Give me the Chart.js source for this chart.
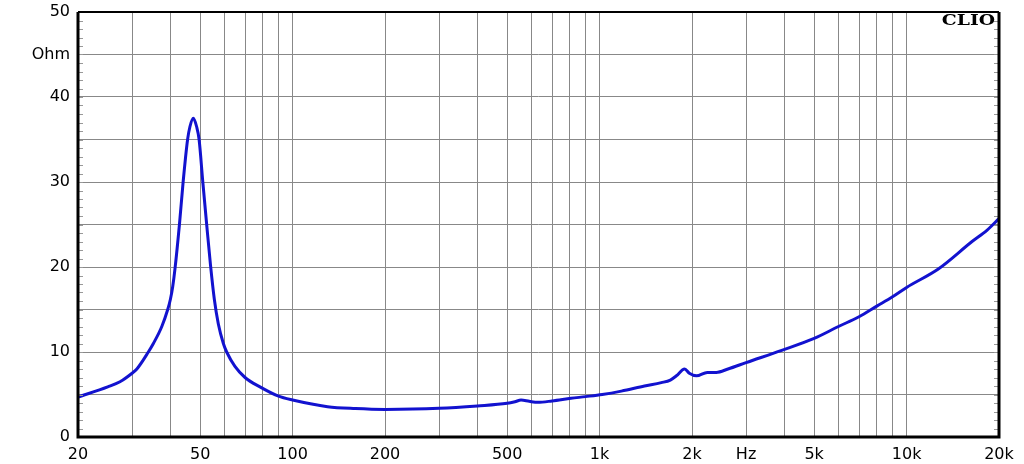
<!DOCTYPE html>
<html>
<head>
<meta charset="utf-8">
<script src="https://cdn.jsdelivr.net/npm/chart.js@4"></script>
<style>
  html, body { margin: 0; padding: 0; background: #fff; }
  canvas { display: block; }
</style>
</head>
<body>
<canvas id="clioChart" width="1024" height="464"></canvas>
<script>
// impedance curve
const freqHz = [20, 25, 27.4, 30, 31.1, 33.9, 35.2, 37.5, 39.2, 40.0, 40.7, 41.4, 42.8, 44.0, 45.5, 46.3, 47.5, 48.7, 49.6, 51.0, 52.5, 54.0, 55.6, 57.3, 59.5, 61.0, 64.9, 70, 78.3, 90, 100, 130, 160, 200, 300, 400, 500, 530, 555, 590, 629, 700, 807, 900, 1020, 1177, 1400, 1589, 1700, 1779, 1893, 1960, 2068, 2243, 2400, 2620, 3000, 3920, 5000, 6000, 7000, 8000, 9000, 10000, 12720, 16340, 18300, 20000];
const ohms = [4.7, 5.9, 6.5, 7.5, 8.0, 10.0, 11.0, 13.0, 15.0, 16.2, 17.7, 19.8, 25.0, 30.0, 35.0, 36.5, 37.5, 36.5, 35.0, 30.0, 25.0, 20.3, 16.2, 13.3, 11.0, 10.0, 8.3, 7.0, 5.9, 4.8, 4.35, 3.57, 3.35, 3.25, 3.37, 3.65, 3.96, 4.15, 4.35, 4.2, 4.08, 4.24, 4.55, 4.75, 5.0, 5.4, 6.0, 6.4, 6.7, 7.2, 8.0, 7.5, 7.2, 7.6, 7.6, 8.0, 8.75, 10.2, 11.6, 13.0, 14.15, 15.4, 16.5, 17.6, 19.8, 23.0, 24.35, 25.7];

const xTicks = [20, 30, 40, 50, 60, 70, 80, 90, 100, 200, 300, 400, 500, 600, 700, 800, 900, 1000, 2000, 3000, 4000, 5000, 6000, 7000, 8000, 9000, 10000, 20000];
const xLabels = { 20: '20', 50: '50', 100: '100', 200: '200', 500: '500', 1000: '1k', 2000: '2k', 3000: 'Hz', 5000: '5k', 10000: '10k', 20000: '20k' };

const tickFont = { family: '"DejaVu Sans"', size: 16 };

const framePlugin = {
  id: 'clioFrame',
  afterDatasetsDraw(chart) {
    const ctx = chart.ctx;
    const a = chart.chartArea;
    const y = chart.scales.y;
    ctx.save();
    // small ticks inside left and right borders, every 1 ohm
    ctx.strokeStyle = '#999';
    ctx.lineWidth = 1;
    for (let v = 1; v < 50; v++) {
      const py = Math.round(y.getPixelForValue(v)) + 0.5;
      ctx.beginPath();
      ctx.moveTo(a.left, py); ctx.lineTo(a.left + 5, py);
      ctx.moveTo(a.right - 5, py); ctx.lineTo(a.right, py);
      ctx.stroke();
    }
    // frame
    ctx.strokeStyle = '#000';
    ctx.lineWidth = 3;
    ctx.beginPath();
    ctx.moveTo(a.left, a.top);
    ctx.lineTo(a.left, a.bottom);
    ctx.lineTo(a.right, a.bottom);
    ctx.lineTo(a.right, a.top);
    ctx.stroke();
    ctx.lineWidth = 2;
    ctx.beginPath();
    ctx.moveTo(a.left, a.top);
    ctx.lineTo(a.right, a.top);
    ctx.stroke();
    // CLIO logo
    ctx.translate(a.right - 4, a.top + 13);
    ctx.scale(1.25, 1);
    ctx.fillStyle = '#000';
    ctx.font = 'bold 15px "DejaVu Serif"';
    ctx.textAlign = 'right';
    ctx.textBaseline = 'alphabetic';
    ctx.fillText('CLIO', 0, 0);
    ctx.restore();
  }
};

new Chart(document.getElementById('clioChart'), {
  type: 'line',
  data: {
    datasets: [{
      data: freqHz.map((f, i) => ({ x: f, y: ohms[i] })),
      borderColor: '#1212cf',
      borderWidth: 3,
      pointRadius: 0,
      fill: false,
      cubicInterpolationMode: 'monotone'
    }]
  },
  options: {
    responsive: false,
    animation: false,
    layout: { padding: { top: 12, right: 25, left: 0, bottom: 0 } },
    plugins: {
      legend: { display: false },
      tooltip: { enabled: false }
    },
    scales: {
      x: {
        type: 'logarithmic',
        min: 20,
        max: 20000,
        afterBuildTicks(scale) {
          scale.ticks = xTicks.map(v => ({ value: v }));
        },
        afterFit(scale) { scale.height = 27; },
        ticks: {
          autoSkip: false,
          maxRotation: 0,
          padding: 8,
          color: '#000',
          font: tickFont,
          callback: (value) => xLabels[value] || ''
        },
        grid: { color: '#888', lineWidth: 1, drawTicks: false },
        border: { display: false }
      },
      y: {
        min: 0,
        max: 50,
        afterFit(scale) {
          scale.width = 78;
          scale.paddingTop = 0;
          scale.paddingBottom = 0;
        },
        ticks: {
          stepSize: 5,
          padding: 8,
          color: '#000',
          font: tickFont,
          callback: (v) => v % 10 === 0 ? String(v) : (v === 45 ? 'Ohm' : '')
        },
        grid: { color: '#888', lineWidth: 1, drawTicks: false },
        border: { display: false }
      }
    }
  },
  plugins: [framePlugin]
});
</script>
</body>
</html>
